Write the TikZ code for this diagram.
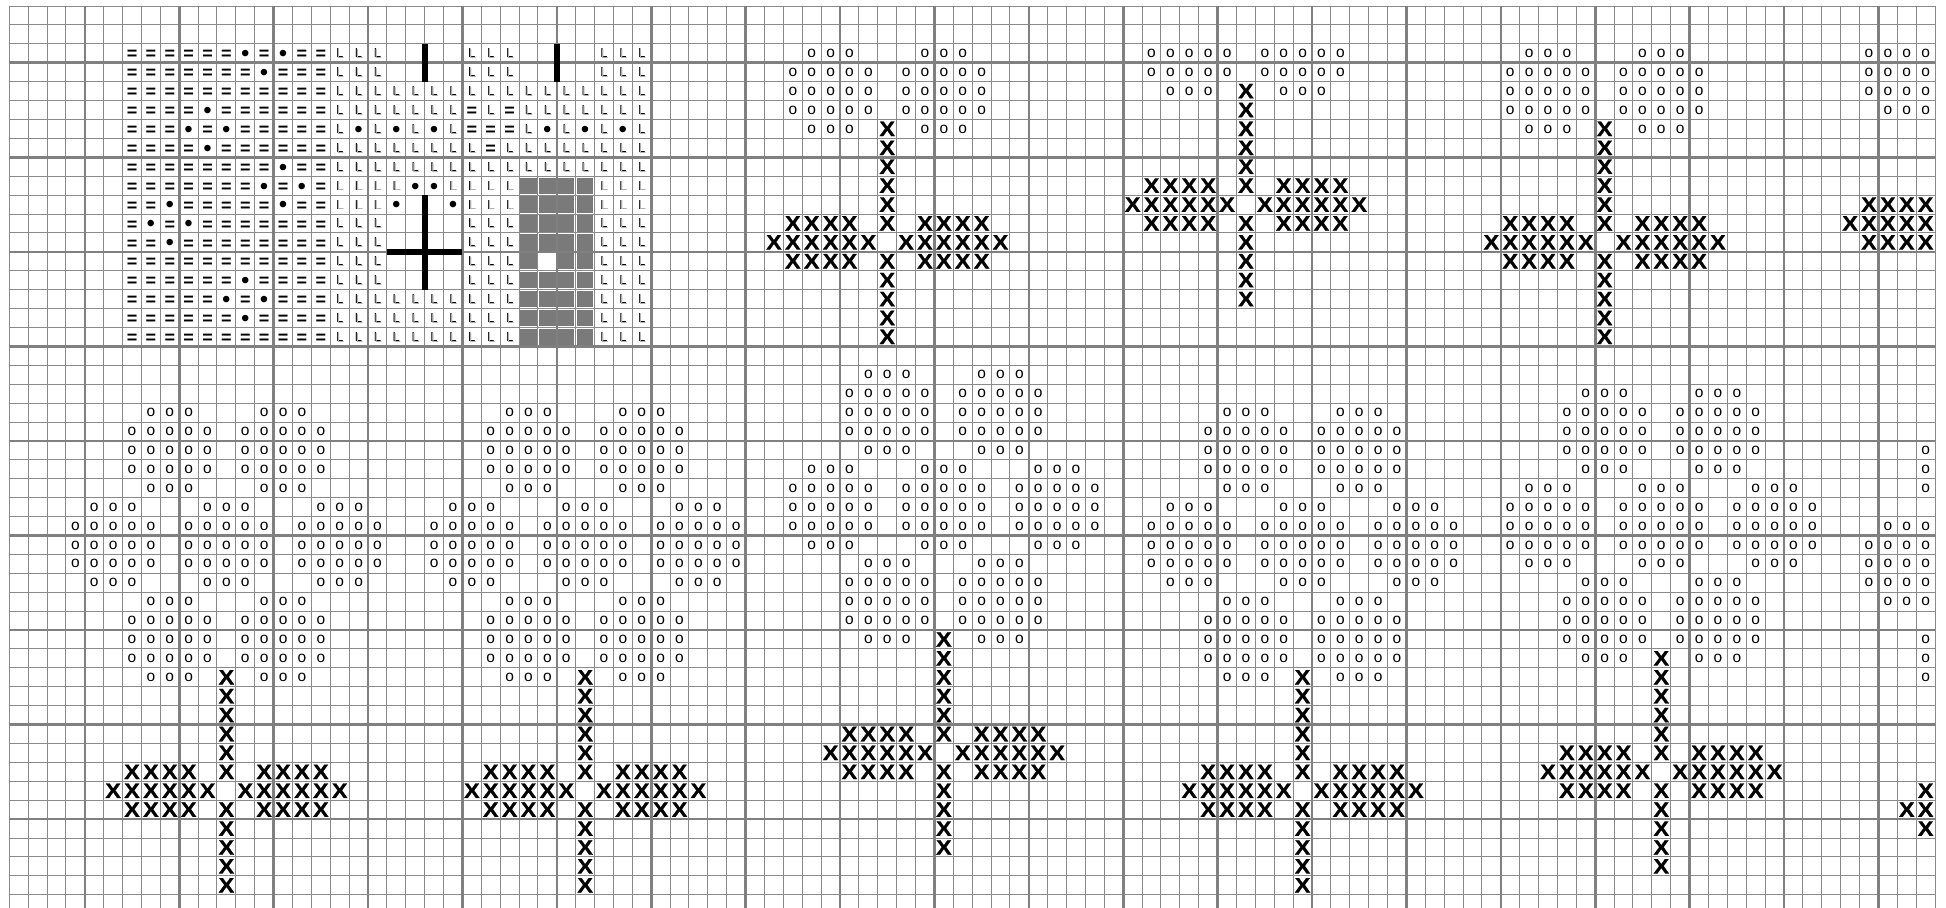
\documentclass[tikz,border=0pt]{standalone}
\usepackage{fontspec}
\newfontfamily\symf{Liberation Sans}
\newfontfamily\xsymf[FakeStretch=1.12,FakeBold=0.6]{Liberation Sans Bold}
\definecolor{gridthin}{RGB}{138,138,138}
\definecolor{gridthick}{RGB}{128,128,128}
\newcount\colc
\newcommand\putsym[4]{\ifnum#3>-1 \ifnum#3<102 \ifnum#4>1 \ifnum#4<48 \node[#1] (n#3-#4) at ({#3+0.5},{#4+0.5}) {#2};\fi\fi\fi\fi}
\newcommand\ocluster[2]{%
  \foreach \mydy/\myw in {-2/1,-1/2,0/2,1/2,2/1}{%
    \pgfmathtruncatemacro\mycy{(#2)+(\mydy)}%
    \foreach \mydx in {-\myw,...,\myw}{%
      \pgfmathtruncatemacro\mycx{(#1)+(\mydx)}%
      \putsym{osym}{o}{\mycx}{\mycy}}}}
\newcommand\flower[2]{%
  \ocluster{#1-3}{#2-5}\ocluster{#1+3}{#2-5}%
  \ocluster{#1-6}{#2}\ocluster{#1}{#2}\ocluster{#1+6}{#2}%
  \ocluster{#1-3}{#2+5}\ocluster{#1+3}{#2+5}%
  \foreach \st in {7,...,18}{\ifnum\st=13 \else\pgfmathtruncatemacro\mycy{#2+\st}\putsym{xsym}{X}{#1}{\mycy}\fi}%
  \pgfmathtruncatemacro\mycya{#2+12}\pgfmathtruncatemacro\mycyb{#2+14}\pgfmathtruncatemacro\mycyc{#2+13}%
  \foreach \st in {2,...,5}{\pgfmathtruncatemacro\mycxa{#1-\st}\pgfmathtruncatemacro\mycxb{#1+\st}%
    \putsym{xsym}{X}{\mycxa}{\mycya}\putsym{xsym}{X}{\mycxb}{\mycya}%
    \putsym{xsym}{X}{\mycxa}{\mycyb}\putsym{xsym}{X}{\mycxb}{\mycyb}}%
  \foreach \st in {1,...,6}{\pgfmathtruncatemacro\mycxa{#1-\st}\pgfmathtruncatemacro\mycxb{#1+\st}%
    \putsym{xsym}{X}{\mycxa}{\mycyc}\putsym{xsym}{X}{\mycxb}{\mycyc}}}
\def\drawrow#1#2{\colc=6\relax\def\currow{#1}\parsechars#2\relax}
\def\parsechars#1{\ifx\relax#1\else\dochar#1\advance\colc by 1\relax\expandafter\parsechars\fi}
\def\dochar#1{\edef\mycc{\the\colc}%
  \if q#1\putsym{eqsym}{=}{\mycc}{\currow}\fi
  \if d#1\putsym{dotsym}{•}{\mycc}{\currow}\fi
  \if L#1\putsym{lsym}{L}{\mycc}{\currow}\fi
  \if c#1\fill[chk] ({\mycc+0.07},{\currow+0.07}) rectangle ({\mycc+0.93},{\currow+0.93});\fi}
\begin{document}
\begin{tikzpicture}[x=18.88pt,y=-18.91pt,
  gthin/.style={draw=gridthin,line width=1pt},
  gthick/.style={draw=gridthick,line width=2.6pt},
  osym/.style={inner sep=0pt,font=\symf\fontsize{15.5}{15.5}\selectfont},
  xsym/.style={inner sep=0pt,font=\xsymf\fontsize{21}{21}\selectfont},
  eqsym/.style={inner sep=0pt,yshift=-2pt,font=\symf\bfseries\fontsize{18}{18}\selectfont},
  dotsym/.style={inner sep=0pt,yshift=-2.8pt,font=\symf\fontsize{24}{24}\selectfont},
  lsym/.style={inner sep=0pt,font=\symf\fontsize{13}{13}\selectfont,
    label={[inner sep=0pt,text=black!30,font=\symf\fontsize{13}{13}\selectfont,xshift=0.8pt,yshift=-0.8pt]center:L}},
  chk/.style={fill=black!52},
  bar/.style={draw=black,line width=6pt,line cap=butt}]
\fill[white] (-0.4926,-0.3173) rectangle (102.5805,47.6986);
\useasboundingbox (-0.4926,-0.3173) rectangle (102.5805,47.6986);
% grid
\foreach \i in {0,...,102} \draw[gthin] (\i,0) -- (\i,47.75);
\foreach \j in {0,...,47} \draw[gthin] (0,\j) -- (102,\j);
\foreach \i in {4,9,...,99} \draw[gthick] (\i,0) -- (\i,47.75);
\foreach \j in {3,8,...,43} \draw[gthick] (0,\j) -- (102,\j);
% top-left block
\drawrow{2}{qqqqqq d q d qq LLL eeee LLL eeee LLL}
\drawrow{3}{qqqqqqq d qqq LLL eeee LLL eeee LLL}
\drawrow{4}{qqqqqqqqqqq LLLLL LLLLL LLLLL LL}
\drawrow{5}{qqqq d qqqqqq LLLLLLL q L q LLLLLLL}
\drawrow{6}{qqq d q d qqqqq L d L d L d L qqq L d L d L d L}
\drawrow{7}{qqqq d qqqqqq LLLLLLLL q LLLLLLLL}
\drawrow{8}{qqqqqqqq d qq LLLLL LLLLL LLLLL LL}
\drawrow{9}{qqqqqqq d q d q LLLL dd LLLL cccc LLL}
\drawrow{10}{qq d qqqqq d qq LLL d ee d LLL cccc LLL}
\drawrow{11}{q d q d qqqqqqq LLL eeee LLL cccc LLL}
\drawrow{12}{qq d qqqqqqqq LLL eeee LLL cccc LLL}
\drawrow{13}{qqqqqqqqqqq LLL eeee LLL cecc LLL}
\drawrow{14}{qqqqqq d qqqq LLL eeee LLL cccc LLL}
\drawrow{15}{qqqqq d q d qqq LLLLLLLLLL cccc LLL}
\drawrow{16}{qqqqqq d qqqq LLLLLLLLLL cccc LLL}
\drawrow{17}{qqqqqqqqqqq LLLLLLLLLL cccc LLL}
\draw[bar] (22,2) -- (22,4);
\draw[bar] (29,2) -- (29,4);
\draw[bar] (22,10) -- (22,15);
\draw[bar] (20,13) -- (24,13);
% flowers
\flower{46}{-1}\flower{65}{-3}\flower{84}{-1}\flower{103}{-2}
\flower{11}{28}\flower{30}{28}\flower{49}{26}\flower{68}{28}\flower{87}{27}\flower{106}{29}
\end{tikzpicture}
\end{document}
